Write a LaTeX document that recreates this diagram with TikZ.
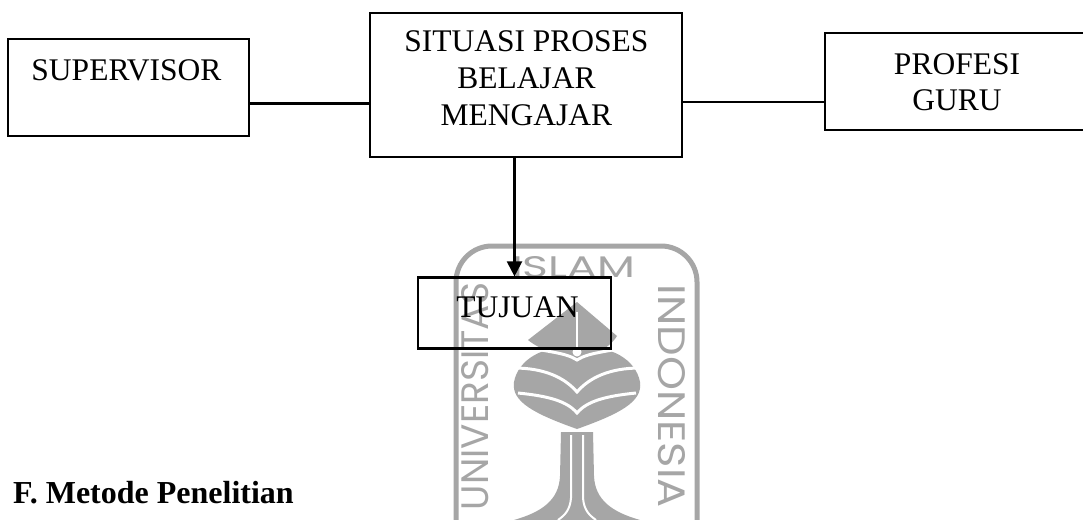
\documentclass[tikz,border=0pt]{standalone}
\usepackage{fontspec}
\setmainfont{Liberation Serif}
\newfontfamily\wmfont{Poppins}
\usetikzlibrary{arrows.meta}
\begin{document}
\begin{tikzpicture}[x=1pt,y=-1pt,
  box/.style={draw=black, line width=2.2pt, inner sep=0pt},
  lbl/.style={font=\fontsize{31.5}{37}\selectfont, align=center, inner sep=0pt},
  link/.style={draw=black, line width=2.2pt},
  wmline/.style={draw=black!35},
  wmfill/.style={fill=black!35},
  wmcut/.style={draw=white, line width=3pt},
  wmtext/.style={text=black!35, inner sep=0pt, font=\wmfont}]
\useasboundingbox (0,0) rectangle (1083,519);
\clip (0,0) rectangle (1083,519);
\fill[white] (0,0) rectangle (1083,519);

% ---- watermark ----
\draw[wmline, line width=5pt, rounded corners=36pt] (456,530) -- (456,246) -- (697,246) -- (697,530);
\node[wmtext, anchor=south] (wmislam) at (573.5,278) {\resizebox{123pt}{21pt}{ISLAM}};
\node[wmtext, rotate=90] (wmuni) at (475.5,396.5) {\resizebox{227pt}{27pt}{UNIVERSITAS}};
\node[wmtext, rotate=-90] (wmindo) at (671.5,396.5) {\resizebox{223pt}{27pt}{INDONESIA}};
% bulb
\fill[black!35] (577,348) .. controls (543,344) and (518,360) .. (514,382)
  .. controls (511,402) and (535,414) .. (577,429)
  .. controls (619,414) and (643,402) .. (640,382)
  .. controls (636,360) and (611,344) .. (577,348) -- cycle;
% head
\fill[black!35] (577,302) -- (617,336) .. controls (608,350) and (592,356) .. (577,358)
  .. controls (560,356) and (540,350) .. (528,340) -- cycle;
\draw[wmcut] (523,346) .. controls (545,352) and (565,352) .. (577,360)
  .. controls (589,352) and (609,352) .. (630,346);
\draw[wmcut] (514,368) .. controls (545,368) and (565,378) .. (577,392)
  .. controls (589,378) and (609,368) .. (640,368);
\draw[wmcut] (518,393) .. controls (548,396) and (567,401) .. (577,413)
  .. controls (587,401) and (606,396) .. (636,393);
\draw[draw=white, line width=2.5pt] (577,312) -- (577,348);
\fill[white] (577,352) circle (4.5pt);
% trunk
\fill[black!35] (561,432) -- (560,476) .. controls (559,500) and (542,512) .. (514,520)
  -- (640,520) .. controls (612,512) and (595,500) .. (594,476) -- (593,432) -- cycle;
\draw[draw=white, line width=2pt] (571,435) -- (571,498) .. controls (570,510) and (565,515) .. (558,520);
\draw[draw=white, line width=2pt] (583,435) -- (583,498) .. controls (584,510) and (589,515) .. (596,520);

% ---- diagram ----
\node[box, minimum width=241pt, minimum height=97pt] (sup) at (128.5,87.6) {};
\node[box, minimum width=312pt, minimum height=144pt] (sit) at (526,84.8) {};
\node[box, minimum width=265pt, minimum height=97pt] (pro) at (957.5,81.7) {};
\node[box, minimum width=193pt, minimum height=71pt] (tuj) at (514.5,313) {};

\node[lbl, anchor=base] (supt) at (126.5,80) {SUPERVISOR};
\node[lbl, anchor=north] (sitt) at (526.4,30.8) {SITUASI PROSES\\BELAJAR\\MENGAJAR};
\node[lbl, font=\fontsize{31.5}{36}\selectfont, anchor=north] (prot) at (957,53) {PROFESI\\GURU};
\node[lbl, anchor=base] (tujt) at (517.5,317.3) {TUJUAN};

\coordinate (yl) at (0,103.5);
\coordinate (yr) at (0,102);
\draw[link] (sup.east |- yl) -- (sit.west |- yl);
\draw[link] (sit.east |- yr) -- (pro.west |- yr);
\draw[link, -{Triangle[length=15pt,width=15pt]}] (sit.south -| tuj.north) -- (tuj.north);

\node[anchor=base west, inner sep=0pt, font=\bfseries\fontsize{32}{38}\selectfont] (heading) at (13,503) {F. Metode Penelitian};
\end{tikzpicture}
\end{document}
